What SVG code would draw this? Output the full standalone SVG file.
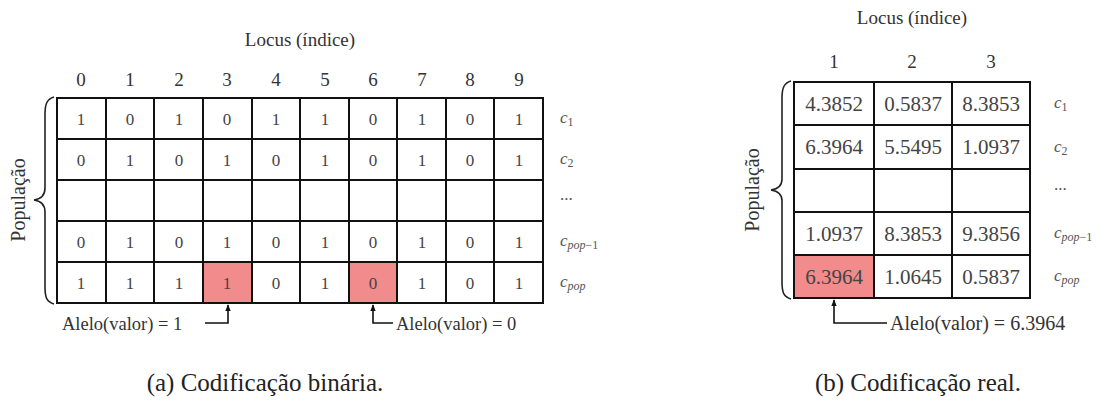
<svg xmlns="http://www.w3.org/2000/svg" width="1114" height="408" viewBox="0 0 1114 408">
<defs>
<marker id="ah" viewBox="0 0 10 10" refX="9" refY="5" markerWidth="7" markerHeight="7" orient="auto-start-reverse" markerUnits="userSpaceOnUse">
<path d="M0,1 L10,5 L0,9 z" fill="#111"/>
</marker>
</defs>

<!-- ===== (a) binary ===== -->
<g id="a-title" fill="#333" font-size="19" text-anchor="middle">
<text font-family="Liberation Serif" x="300" y="46">Locus (índice)</text>
<text font-family="Liberation Serif" x="81" y="86">0</text>
<text font-family="Liberation Serif" x="130" y="86">1</text>
<text font-family="Liberation Serif" x="179" y="86">2</text>
<text font-family="Liberation Serif" x="227" y="86">3</text>
<text font-family="Liberation Serif" x="276" y="86">4</text>
<text font-family="Liberation Serif" x="325" y="86">5</text>
<text font-family="Liberation Serif" x="373" y="86">6</text>
<text font-family="Liberation Serif" x="422" y="86">7</text>
<text font-family="Liberation Serif" x="470" y="86">8</text>
<text font-family="Liberation Serif" x="519" y="86">9</text>
</g>
<g id="a-grid">
<rect fill="#f28b8b" x="203" y="262" width="49" height="41"/>
<rect fill="#f28b8b" x="349" y="262" width="48" height="41"/>
<g fill="none" stroke="#111" stroke-width="2">
<rect x="57" y="98" width="486" height="205"/>
<path d="M57 139H543M57 180H543M57 221H543M57 262H543"/>
<path d="M106 98V303M154 98V303M203 98V303M252 98V303M300 98V303M349 98V303M397 98V303M446 98V303M494 98V303"/>
</g>
</g>
<g id="a-values" fill="#444" font-size="17" text-anchor="middle">
<text font-family="Liberation Serif" x="81" y="125">1</text><text font-family="Liberation Serif" x="130" y="125">0</text><text font-family="Liberation Serif" x="179" y="125">1</text><text font-family="Liberation Serif" x="227" y="125">0</text><text font-family="Liberation Serif" x="276" y="125">1</text><text font-family="Liberation Serif" x="325" y="125">1</text><text font-family="Liberation Serif" x="373" y="125">0</text><text font-family="Liberation Serif" x="422" y="125">1</text><text font-family="Liberation Serif" x="470" y="125">0</text><text font-family="Liberation Serif" x="519" y="125">1</text>
<text font-family="Liberation Serif" x="81" y="166">0</text><text font-family="Liberation Serif" x="130" y="166">1</text><text font-family="Liberation Serif" x="179" y="166">0</text><text font-family="Liberation Serif" x="227" y="166">1</text><text font-family="Liberation Serif" x="276" y="166">0</text><text font-family="Liberation Serif" x="325" y="166">1</text><text font-family="Liberation Serif" x="373" y="166">0</text><text font-family="Liberation Serif" x="422" y="166">1</text><text font-family="Liberation Serif" x="470" y="166">0</text><text font-family="Liberation Serif" x="519" y="166">1</text>
<text font-family="Liberation Serif" x="81" y="248">0</text><text font-family="Liberation Serif" x="130" y="248">1</text><text font-family="Liberation Serif" x="179" y="248">0</text><text font-family="Liberation Serif" x="227" y="248">1</text><text font-family="Liberation Serif" x="276" y="248">0</text><text font-family="Liberation Serif" x="325" y="248">1</text><text font-family="Liberation Serif" x="373" y="248">0</text><text font-family="Liberation Serif" x="422" y="248">1</text><text font-family="Liberation Serif" x="470" y="248">0</text><text font-family="Liberation Serif" x="519" y="248">1</text>
<text font-family="Liberation Serif" x="81" y="289">1</text><text font-family="Liberation Serif" x="130" y="289">1</text><text font-family="Liberation Serif" x="179" y="289">1</text><text font-family="Liberation Serif" x="227" y="289">1</text><text font-family="Liberation Serif" x="276" y="289">0</text><text font-family="Liberation Serif" x="325" y="289">1</text><text font-family="Liberation Serif" x="373" y="289">0</text><text font-family="Liberation Serif" x="422" y="289">1</text><text font-family="Liberation Serif" x="470" y="289">0</text><text font-family="Liberation Serif" x="519" y="289">1</text>
</g>
<g id="a-rowlabels" fill="#555" font-size="17" font-style="italic">
<text font-family="Liberation Serif" x="560" y="123">c<tspan font-size="12" font-style="normal" dy="3">1</tspan></text>
<text font-family="Liberation Serif" x="560" y="164">c<tspan font-size="12" font-style="normal" dy="3">2</tspan></text>
<text font-family="Liberation Serif" x="560" y="200" font-style="normal">...</text>
<text font-family="Liberation Serif" x="560" y="246">c<tspan font-size="12" dy="3">pop</tspan><tspan font-size="12" font-style="normal">−1</tspan></text>
<text font-family="Liberation Serif" x="560" y="287">c<tspan font-size="12" dy="3">pop</tspan></text>
</g>
<g id="a-population">
<path fill="none" stroke="#222" stroke-width="1.6" d="M54 97C47 99 45 104 45 114L45 188C45 195 41 199 34 200C41 201 45 205 45 212L45 287C45 298 47 302 54 304"/>
<text font-family="Liberation Serif" fill="#333" font-size="20" text-anchor="middle" transform="translate(25,200) rotate(-90)">População</text>
</g>
<g id="a-connectors" fill="none" stroke="#111" stroke-width="1.6">
<path d="M205 323H228V305" marker-end="url(#ah)"/>
<path d="M393 323H373V305" marker-end="url(#ah)"/>
</g>
<g id="a-annotations" fill="#333" font-size="18.5">
<text font-family="Liberation Serif" x="62" y="330">Alelo(valor) = 1</text>
<text font-family="Liberation Serif" x="396" y="330">Alelo(valor) = 0</text>
</g>
<text font-family="Liberation Serif" fill="#222" font-size="25" text-anchor="middle" x="265" y="391">(a) Codificação binária.</text>

<!-- ===== (b) real ===== -->
<g id="b-title" fill="#333" font-size="19" text-anchor="middle">
<text font-family="Liberation Serif" x="912" y="24">Locus (índice)</text>
<text font-family="Liberation Serif" x="834" y="68">1</text>
<text font-family="Liberation Serif" x="912" y="68">2</text>
<text font-family="Liberation Serif" x="991" y="68">3</text>
</g>
<g id="b-grid">
<rect fill="#f28b8b" x="794" y="255" width="80" height="43"/>
<g fill="none" stroke="#111" stroke-width="2">
<rect x="794" y="82" width="236" height="216"/>
<path d="M794 125H1030M794 169H1030M794 212H1030M794 255H1030"/>
<path d="M874 82V298M952 82V298"/>
</g>
</g>
<g id="b-values" fill="#444" font-size="21" text-anchor="middle">
<text font-family="Liberation Serif" x="834" y="111">4.3852</text><text font-family="Liberation Serif" x="913" y="111">0.5837</text><text font-family="Liberation Serif" x="991" y="111">8.3853</text>
<text font-family="Liberation Serif" x="834" y="154">6.3964</text><text font-family="Liberation Serif" x="913" y="154">5.5495</text><text font-family="Liberation Serif" x="991" y="154">1.0937</text>
<text font-family="Liberation Serif" x="834" y="241">1.0937</text><text font-family="Liberation Serif" x="913" y="241">8.3853</text><text font-family="Liberation Serif" x="991" y="241">9.3856</text>
<text font-family="Liberation Serif" x="834" y="284">6.3964</text><text font-family="Liberation Serif" x="913" y="284">1.0645</text><text font-family="Liberation Serif" x="991" y="284">0.5837</text>
</g>
<g id="b-rowlabels" fill="#555" font-size="17" font-style="italic">
<text font-family="Liberation Serif" x="1054" y="108">c<tspan font-size="12" font-style="normal" dy="3">1</tspan></text>
<text font-family="Liberation Serif" x="1054" y="152">c<tspan font-size="12" font-style="normal" dy="3">2</tspan></text>
<text font-family="Liberation Serif" x="1054" y="190" font-style="normal">...</text>
<text font-family="Liberation Serif" x="1054" y="238">c<tspan font-size="12" dy="3">pop</tspan><tspan font-size="12" font-style="normal">−1</tspan></text>
<text font-family="Liberation Serif" x="1054" y="281">c<tspan font-size="12" dy="3">pop</tspan></text>
</g>
<g id="b-population">
<path fill="none" stroke="#222" stroke-width="1.6" d="M791 81C784 83 782 88 782 98L782 179C782 186 778 189 771 190C778 191 782 194 782 201L782 282C782 293 784 297 791 299"/>
<text font-family="Liberation Serif" fill="#333" font-size="20" text-anchor="middle" transform="translate(759,190) rotate(-90)">População</text>
</g>
<g id="b-connectors" fill="none" stroke="#111" stroke-width="1.6">
<path d="M887 323H834V300" marker-end="url(#ah)"/>
</g>
<g id="b-annotations" fill="#333" font-size="20">
<text font-family="Liberation Serif" x="890" y="330">Alelo(valor) = 6.3964</text>
</g>
<text font-family="Liberation Serif" fill="#222" font-size="25" text-anchor="middle" x="918" y="391">(b) Codificação real.</text>
</svg>
